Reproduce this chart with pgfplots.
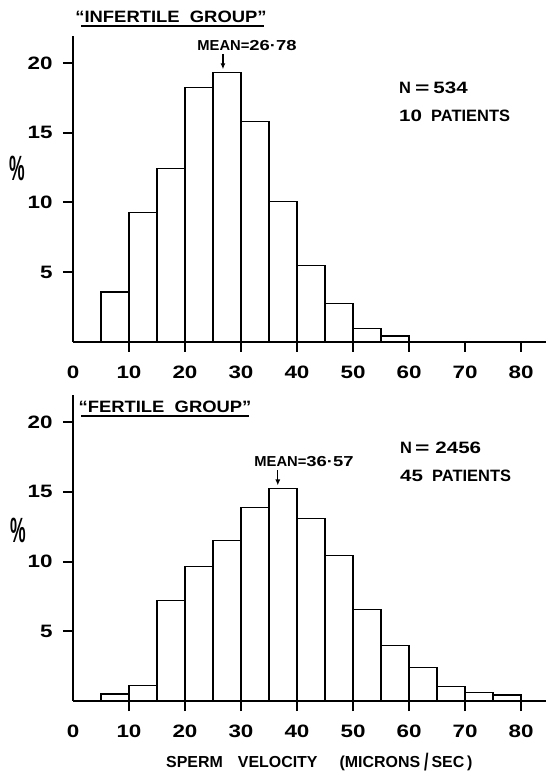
\documentclass[border=0pt]{standalone}
\usepackage{fontspec}
\setmainfont{Liberation Sans}
\usepackage{graphicx}
\usepackage{pgfplots}
\usepackage{pgfplotstable}
\pgfplotsset{compat=1.18}
\usetikzlibrary{arrows.meta}

\newcommand{\fs}[1]{\fontsize{#1}{#1}\selectfont\bfseries}
\newcommand{\wide}[2]{\scalebox{#1}[1]{#2}}
\newcommand{\dg}[1]{\scalebox{1.25}[1]{#1}}

\pgfplotstableread{
x y
5 3.59
10 9.28
15 12.42
20 18.26
25 19.33
30 15.80
35 10.07
40 5.50
45 2.76
50 0.98
55 0.43
60 0.43
}\infertile

\pgfplotstableread{
x y
5 0.50
10 1.13
15 7.19
20 9.66
25 11.50
30 13.86
35 15.25
40 13.07
45 10.45
50 6.55
55 3.96
60 2.42
65 1.03
70 0.60
75 0.43
80 0.43
}\fertile

\pgfplotsset{histo/.style={
  scale only axis, width=473.2bp, height=305.5bp,
  xmin=0, xmax=84.5, ymin=0, ymax=21.9,
  axis x line=bottom, axis y line=left,
  axis line style={-, line width=2bp, black},
  axis on top,
  xtick={10,20,...,80},
  extra x ticks={0}, extra x tick style={tick style={draw=none}},
  ytick={5,10,15,20},
  tick align=outside, major tick length=10bp,
  tick style={line width=2bp, black},
  /pgf/number format/assume math mode=true,
  tick label style={font=\fs{18}},
  xticklabel={\dg{\pgfmathprintnumber{\tick}}},
  yticklabel={\dg{\pgfmathprintnumber{\tick}}},
  xticklabel style={yshift=-10bp},
  yticklabel style={xshift=-7bp},
  anchor=south west, clip=false,
}}

\begin{document}
\begin{tikzpicture}
\path[use as bounding box] (0,0) rectangle (546bp,776bp);

% ---------- top panel ----------
\begin{axis}[histo, at={(73bp,434bp)}]
\addplot[ybar interval, draw=black, fill=white, line width=1.3bp] table[x=x,y=y] {\infertile};
\draw[line width=1.2bp, -{Latex[length=6bp,width=5bp]}] (axis cs:26.78,20.65) -- (axis cs:26.78,19.55);
\end{axis}

% ---------- bottom panel ----------
\begin{axis}[histo, at={(73bp,75bp)}]
\addplot[ybar interval, draw=black, fill=white, line width=1.3bp] table[x=x,y=y] {\fertile};
\draw[line width=1.2bp, -{Latex[length=6bp,width=5bp]}] (axis cs:36.57,16.55) -- (axis cs:36.57,15.45);
\end{axis}

% ---------- texts ----------
\node[inner sep=0pt] at (171bp,759bp) {\fs{16.5}\wide{1.12}{“INFERTILE\ \ GROUP”}};
\draw[line width=2bp] (81bp,750bp) -- (264bp,750bp);
\node[inner sep=0pt] at (247bp,730.5bp) {\fs{14.5}\wide{1.02}{MEAN=\dg{26·78}}};
\node[inner sep=0pt, anchor=west] at (399bp,688.5bp) {\fs{16.5}N\hspace{4bp}\scalebox{1.5}[1]{=}\hspace{4bp}\dg{534}};
\node[inner sep=0pt, anchor=west] at (399bp,660bp) {\fs{16.5}\dg{10}\ \ PATIENTS};
\node[inner sep=0pt] at (17bp,607.5bp) {\fs{22}\scalebox{0.8}[1.6]{\%}};

\node[inner sep=0pt] at (165bp,369bp) {\fs{16.5}\wide{1.12}{“FERTILE\ \ GROUP”}};
\draw[line width=2bp] (81bp,360bp) -- (249bp,360bp);
\node[inner sep=0pt] at (304bp,314bp) {\fs{14.5}\wide{1.02}{MEAN=\dg{36·57}}};
\node[inner sep=0pt, anchor=west] at (400bp,328.5bp) {\fs{16.5}N\hspace{3bp}\scalebox{1.5}[1]{=}\hspace{6bp}\dg{2456}};
\node[inner sep=0pt, anchor=west] at (400bp,300bp) {\fs{16.5}\dg{45}\ \ PATIENTS};
\node[inner sep=0pt] at (18bp,246bp) {\fs{22}\scalebox{0.8}[1.6]{\%}};

\node[inner sep=0pt, anchor=west] at (166bp,13.5bp) {\fs{16}SPERM\hspace{15bp}VELOCITY\hspace{22bp}(MICRONS\hspace{4bp}\raisebox{-3bp}{\scalebox{1}[1.5]{/}}\hspace{3bp}SEC\,)};
\end{tikzpicture}
\end{document}
